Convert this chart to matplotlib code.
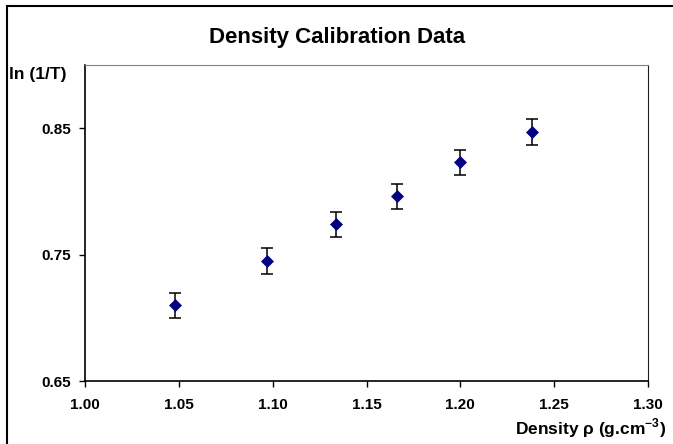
import matplotlib.pyplot as plt
from matplotlib.lines import Line2D

plt.rcParams['font.family'] = ['Liberation Sans', 'DejaVu Sans']
plt.rcParams['font.weight'] = 'bold'
plt.rcParams['mathtext.fontset'] = 'custom'
plt.rcParams['mathtext.rm'] = 'Liberation Sans:bold'
plt.rcParams['mathtext.bf'] = 'Liberation Sans:bold'

# calibration data
density = [1.048, 1.097, 1.134, 1.166, 1.200, 1.238]
ln_inv_T = [0.710, 0.745, 0.774, 0.796, 0.823, 0.847]
y_err = [0.010, 0.010, 0.010, 0.010, 0.010, 0.010]

x_ticks = [1.00, 1.05, 1.10, 1.15, 1.20, 1.25, 1.30]
y_ticks = [0.65, 0.75, 0.85]

fig = plt.figure(figsize=(6.73, 4.44), dpi=100)
ax = fig.add_axes([85 / 673, 1 - 381 / 444, 563 / 673, 316 / 444])

ax.errorbar(density, ln_inv_T, yerr=y_err, fmt='none', ecolor='black',
            elinewidth=1.1, capsize=4, capthick=1.1, zorder=2)
ax.plot(density, ln_inv_T, 'D', color='#000080', markersize=5.8,
        markeredgecolor='#000080', markeredgewidth=0.5, zorder=3)

ax.set_xlim(1.00, 1.30)
ax.set_ylim(0.65, 0.90)
ax.set_xticks(x_ticks)
ax.set_xticklabels(['%.2f' % v for v in x_ticks])
ax.set_yticks(y_ticks)
ax.set_yticklabels(['%.2f' % v for v in y_ticks])
ax.tick_params(axis='x', direction='out', length=4, width=1, pad=8, labelsize=11)
ax.tick_params(axis='y', direction='out', length=4, width=1, pad=6, labelsize=11)

for s in ['left', 'bottom']:
    ax.spines[s].set_color('black')
    ax.spines[s].set_linewidth(1.2)
ax.spines['top'].set_color('#808080')
ax.spines['right'].set_color('#202020')

fig.text(337 / 673, 1 - 38 / 444, 'Density Calibration Data', ha='center',
         va='center', fontsize=16, fontweight='bold')
fig.text(9 / 673, 1 - 74 / 444, 'ln (1/T)', ha='left', va='center',
         fontsize=12.5, fontweight='bold')
fig.text(666 / 673, 1 - 428 / 444, r'Density ρ (g.cm$^{\mathbf{-3}}$)',
         ha='right', va='center', fontsize=12.5, fontweight='bold')

# chart area border (left and top edges visible)
fig.add_artist(Line2D([7 / 673, 7 / 673], [0, 1 - 6 / 444],
                      transform=fig.transFigure, color='black', lw=1.5))
fig.add_artist(Line2D([7 / 673, 1], [1 - 6 / 444, 1 - 6 / 444],
                      transform=fig.transFigure, color='black', lw=1.5))

fig.savefig('out.png', dpi=100)
